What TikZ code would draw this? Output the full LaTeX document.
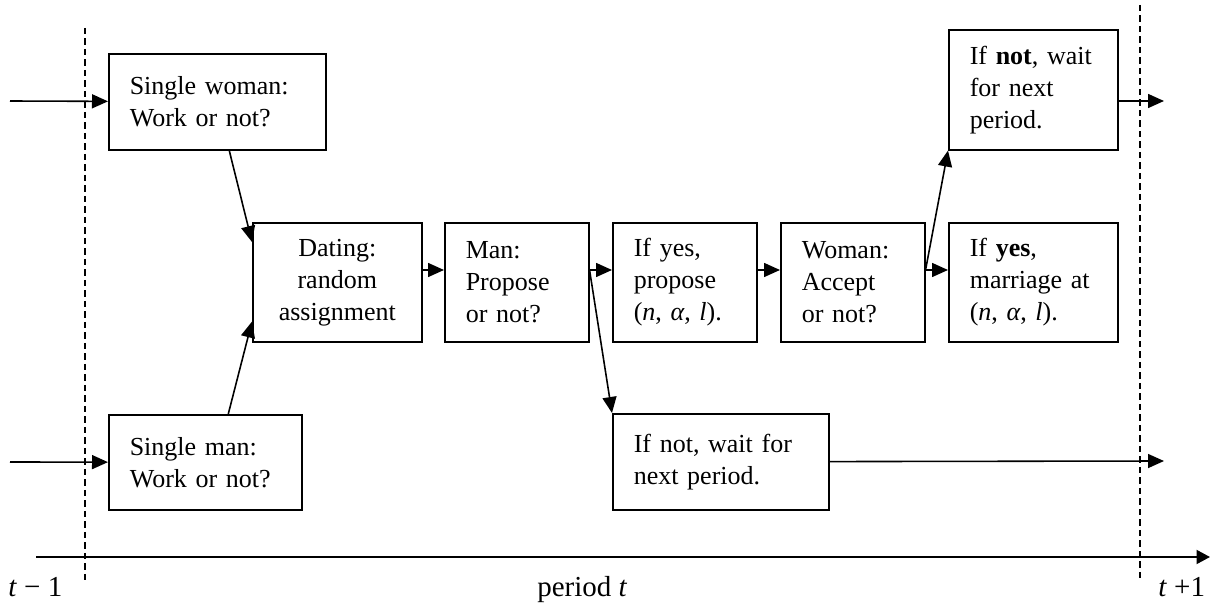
\documentclass[tikz,border=0pt]{standalone}
\usepackage{fontspec}
\setmainfont{Liberation Serif}
\usetikzlibrary{arrows.meta, calc}

\begin{document}
\begin{tikzpicture}[x=0.02cm, y=-0.02cm,
    box/.style={draw, line width=0.9pt, anchor=north west, inner xsep=0.42cm, inner ysep=0pt, align=left, font=\fontsize{14.8}{18.2}\selectfont},
    arr/.style={line width=0.9pt, -{Triangle[length=0.32cm, width=0.28cm]}},
    periodline/.style={line width=0.6pt, dash pattern=on 0.13cm off 0.08cm},
    lbl/.style={anchor=base west, inner sep=0pt, font=\fontsize{16.5}{19}\selectfont}]
    \useasboundingbox (0,0) rectangle (1211,607);

    % Period borders and time axis
    \draw[periodline] (85,28) -- (85,582);
    \draw[periodline] (1140,5) -- (1140,582);
    \coordinate (tstart) at (36,557);
    \coordinate (tend) at (1210,557);
    \draw[line width=1.1pt, -{Triangle[length=0.27cm, width=0.28cm]}] (tstart) -- (tend);
    \node[lbl] (tprev) at (8,597) {\textit{t} − 1};
    \node[lbl] (tnow) at (537,597) {period \textit{t}};
    \node[lbl] (tnext) at (1158,597) {\textit{t} +1};

    % Decision boxes
    \node[box, text width=3.5cm, minimum height=1.92cm] (swoman) at (108,53) {Single woman:\\Work or not?};
    \node[box, text width=3.02cm, minimum height=1.9cm] (sman) at (108,414) {Single man:\\Work or not?};
    \node[box, text width=2.54cm, minimum height=2.38cm, align=center] (dating) at (252,222) {Dating:\\random\\assignment};
    \node[box, text width=2.04cm, minimum height=2.38cm] (man) at (444,222) {Man:\\Propose\\or not?};
    \node[box, text width=2.04cm, minimum height=2.38cm] (ifyes) at (612,222) {If yes,\\propose\\(\textit{n}, \textit{α}, \textit{l}).};
    \node[box, text width=2.04cm, minimum height=2.38cm] (woman) at (780,222) {Woman:\\Accept\\or not?};
    \node[box, text width=2.54cm, minimum height=2.38cm] (marry) at (948,222) {If \textbf{yes},\\marriage at\\(\textit{n}, \textit{α}, \textit{l}).};
    \node[box, text width=2.54cm, minimum height=2.4cm] (ifnot) at (948,29) {If \textbf{not}, wait\\for next\\period.};
    \node[box, text width=3.48cm, minimum height=1.92cm] (waitm) at (612,413) {If not, wait for\\next period.};

    % Flows
    \coordinate (inw) at (10,101);
    \coordinate (inm) at (10,462);
    \coordinate (row) at (0,270);
    \coordinate (outw) at (1164,101);
    \coordinate (outm) at (1164,461);
    \draw[arr] (inw) -- (swoman);
    \draw[arr] (inm) -- (sman);
    \draw[arr] ($(swoman.south)+(12,0)$) -- ($(dating.north west)+(0,20)$);
    \draw[arr] ($(sman.north)+(23,0)$) -- ($(dating.south west)+(0,-21)$);
    \draw[arr] (dating.east |- row) -- (man.west |- row);
    \draw[arr] (man.east |- row) -- (ifyes.west |- row);
    \draw[arr] (man.east |- row) -- (waitm.north west);
    \draw[arr] (ifyes.east |- row) -- (woman.west |- row);
    \draw[arr] (woman.east |- row) -- (marry.west |- row);
    \draw[arr] (woman.east |- row) -- (ifnot.south west);
    \draw[arr] (ifnot.east |- outw) -- (outw);
    \draw[arr] (waitm) -- (outm);
\end{tikzpicture}
\end{document}
